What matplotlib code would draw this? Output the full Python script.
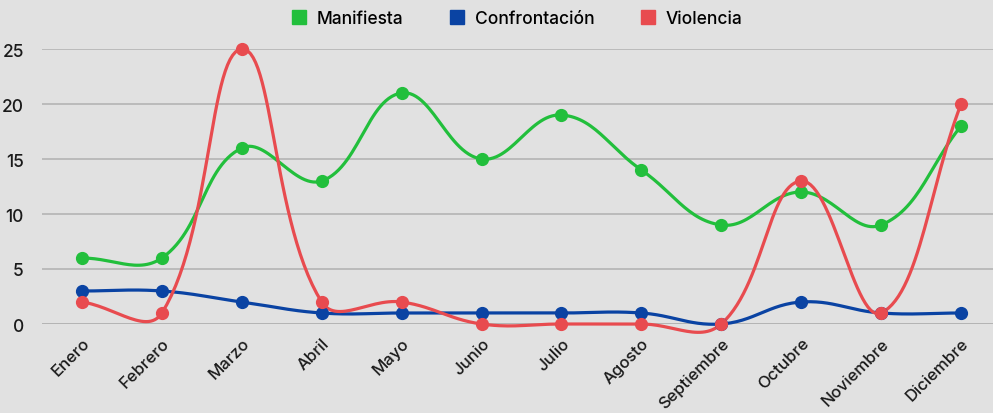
import numpy as np
import matplotlib
matplotlib.use("Agg")
import matplotlib.pyplot as plt
from matplotlib.lines import Line2D

plt.rcParams["font.family"] = ["Inter", "DejaVu Sans"]

MESES = ["Enero", "Febrero", "Marzo", "Abril", "Mayo", "Junio", "Julio",
         "Agosto", "Septiembre", "Octubre", "Noviembre", "Diciembre"]
MANIFIESTA = [6, 6, 16, 13, 21, 15, 19, 14, 9, 12, 9, 18]
CONFRONTACION = [3, 3, 2, 1, 1, 1, 1, 1, 0, 2, 1, 1]
VIOLENCIA = [2, 1, 25, 2, 2, 0, 0, 0, 0, 13, 1, 20]

SERIES = [
    ("Manifiesta", MANIFIESTA, "#22bf3c"),
    ("Confrontación", CONFRONTACION, "#0a43a3"),
    ("Violencia", VIOLENCIA, "#e84b4f"),
]

BG = "#e1e1e1"


def smooth(x, y, tension=0.4, sx=80.0, sy=11.0, n=30):
    """Chart.js-like bezier spline through the points (distances in px)."""
    x = np.asarray(x, float)
    y = np.asarray(y, float)
    px, py = x * sx, y * sy
    m = len(px)
    cp_prev = np.zeros((m, 2))
    cp_next = np.zeros((m, 2))
    for i in range(m):
        p0 = np.array([px[max(i - 1, 0)], py[max(i - 1, 0)]])
        p1 = np.array([px[i], py[i]])
        p2 = np.array([px[min(i + 1, m - 1)], py[min(i + 1, m - 1)]])
        d01 = np.hypot(*(p1 - p0))
        d12 = np.hypot(*(p2 - p1))
        tot = d01 + d12
        s01 = d01 / tot if tot else 0
        s12 = d12 / tot if tot else 0
        cp_prev[i] = p1 - tension * s01 * (p2 - p0)
        cp_next[i] = p1 + tension * s12 * (p2 - p0)
    xs, ys = [], []
    t = np.linspace(0, 1, n)
    for i in range(m - 1):
        a = np.array([px[i], py[i]])
        b = cp_next[i]
        c = cp_prev[i + 1]
        d = np.array([px[i + 1], py[i + 1]])
        pts = ((1 - t) ** 3)[:, None] * a + (3 * (1 - t) ** 2 * t)[:, None] * b \
            + (3 * (1 - t) * t ** 2)[:, None] * c + (t ** 3)[:, None] * d
        xs.append(pts[:, 0] / sx)
        ys.append(pts[:, 1] / sy)
    return np.concatenate(xs), np.concatenate(ys)


fig = plt.figure(figsize=(9.93, 4.14), dpi=100, facecolor=BG)
ax = fig.add_axes([42 / 993, 1 - 325 / 414, 1 - 42 / 993, (325 - 50) / 414])
ax.set_facecolor(BG)

x = np.arange(len(MESES))
for name, vals, color in SERIES:
    sx_, sy_ = smooth(x, vals)
    ax.plot(sx_, sy_, color=color, lw=2.3, solid_capstyle="round", zorder=3,
            clip_on=False)
    ax.plot(x, vals, "o", color=color, ms=8.5, zorder=4, clip_on=False)

ax.set_ylim(0, 25)
ax.set_yticks([0, 5, 10, 15, 20, 25])
ax.set_xlim(-0.5, 11.4)
ax.set_xticks(x)
ax.set_xticklabels(MESES, rotation=45, ha="right", rotation_mode="anchor",
                   fontsize=12, color="#1a1a1a", fontweight="medium")
for lab in ax.get_yticklabels():
    lab.set_fontsize(12.5)
    lab.set_color("#1a1a1a")
    lab.set_fontweight("medium")
ax.tick_params(axis="both", length=0)
ax.tick_params(axis="x", pad=8)
ax.tick_params(axis="y", pad=13)
for s in ax.spines.values():
    s.set_visible(False)
ax.grid(axis="y", color="#b8b8b8", lw=1.3, zorder=0)
ax.axhline(0, color="#8a8a8a", lw=1.3, zorder=1)

handles = [Line2D([], [], marker="s", ls="none", color=c, ms=10, label=n)
           for n, _, c in SERIES]
fig.legend(handles=handles, loc="center", bbox_to_anchor=(0.52, 0.953), ncol=3,
           frameon=False, handletextpad=0.5, columnspacing=2.6,
           handlelength=1.0, prop={"size": 12.5, "weight": "medium"})

fig.savefig("out.png", dpi=100, facecolor=BG)
